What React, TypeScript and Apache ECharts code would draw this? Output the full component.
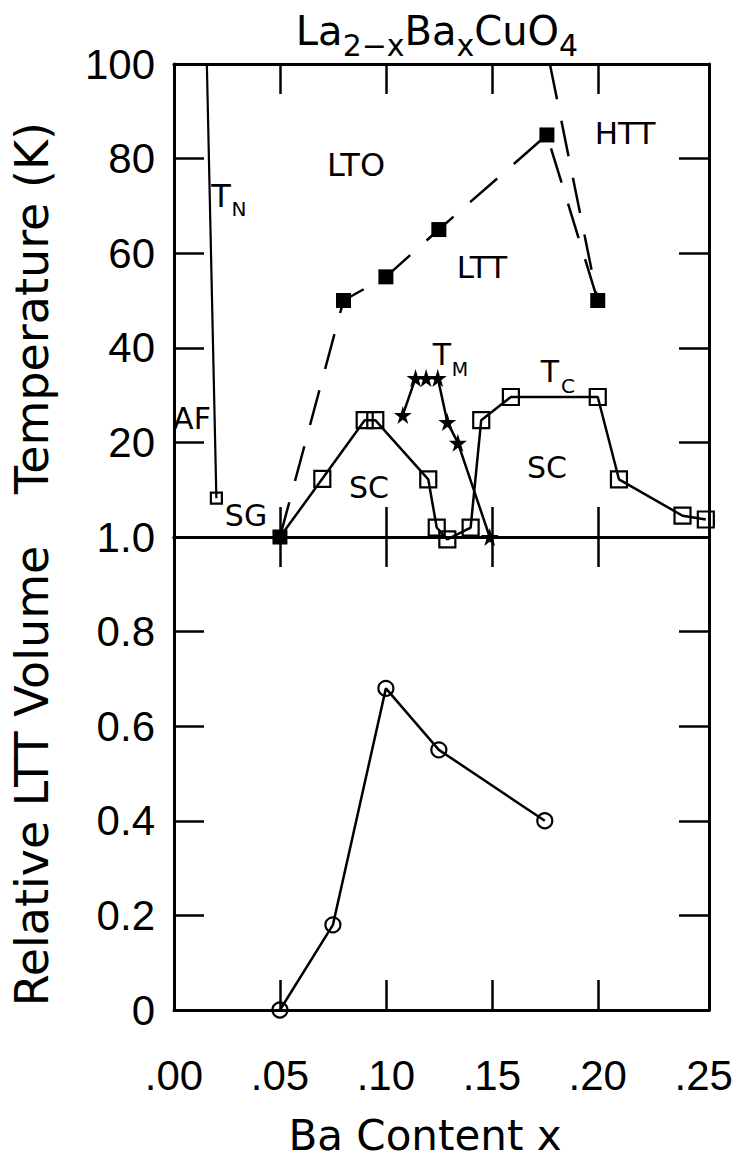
import React, { useEffect, useRef } from "react";
import * as echarts from "echarts";

// ---------------- data ----------------
const xTickValues = [0.05, 0.1, 0.15, 0.2];
const xLabelValues = [0, 0.05, 0.1, 0.15, 0.2, 0.25];
const tempTickValues = [20, 40, 60, 80];
const tempLabelValues = [20, 40, 60, 80, 100];
const volTickValues = [0.2, 0.4, 0.6, 0.8];
const volLabelValues = [0, 0.2, 0.4, 0.6, 0.8, 1.0];

// T_N line (AF boundary) ending in the SG point
const tnX = [0.0155, 0.02];
const tnT = [100, 8.2];

// Tc (open squares)
const tcX = [0.05, 0.07, 0.09, 0.095, 0.12, 0.124, 0.129, 0.14, 0.145, 0.159, 0.2, 0.21, 0.24, 0.251];
const tcT = [0, 12.3, 24.7, 24.7, 12.2, 2.0, -0.5, 2.0, 24.7, 29.6, 29.6, 12.2, 4.5, 3.7];

// T_M (stars)
const tmX = [0.108, 0.114, 0.119, 0.1245, 0.129, 0.134, 0.149];
const tmT = [25.8, 33.6, 33.6, 33.6, 24.3, 19.9, 0];

// LTO-LTT transition (filled squares, dashed)
const lttX = [0.05, 0.08, 0.1, 0.125, 0.176, 0.2];
const lttT = [0, 50, 55, 65, 85, 50];

// LTO-HTT boundary (dashed, no symbols)
const httX = [0.1774, 0.2];
const httT = [100, 50];

// Relative LTT volume (open circles)
const volX = [0.05, 0.075, 0.1, 0.125, 0.175];
const volV = [0, 0.18, 0.68, 0.55, 0.4];

// Title pieces: [text, isSubscript]
const titleParts: [string, boolean][] = [
  ["La", false],
  ["2−x", true],
  ["Ba", false],
  ["x", true],
  ["CuO", false],
  ["4", true],
];

const X_MAX = 0.2525;

// ---------------- styles ----------------
const FONT = "DejaVu Sans";
const NUM_FONT = "Liberation Sans";
const BLACK = "#000";
const frameLine = { color: BLACK, width: 3 };
const tickLine = { color: BLACK, width: 2.5 };
const DASH = [36, 22];
const STAR = "path://M50,0 L61,35 L98,35 L68,57 L79,91 L50,70 L21,91 L32,57 L2,35 L39,35 Z";

function xAxisDef(gridIndex: number, position: string, withLabels: boolean) {
  return {
    type: "value",
    gridIndex,
    position,
    min: 0,
    max: X_MAX,
    interval: 0.05,
    axisLine: { show: true, onZero: false, lineStyle: frameLine },
    axisTick: { show: true, inside: true, length: 30, customValues: xTickValues, lineStyle: tickLine },
    axisLabel: withLabels
      ? {
          show: true,
          customValues: xLabelValues,
          margin: 44,
          fontSize: 42,
          fontFamily: NUM_FONT,
          color: BLACK,
          formatter: (v: number) => v.toFixed(2).replace(/^0/, ""),
        }
      : { show: false },
    splitLine: { show: false },
  };
}

function yAxisDef(
  gridIndex: number,
  position: string,
  min: number,
  max: number,
  interval: number,
  ticks: number[],
  labels: number[] | null,
  fmt?: (v: number) => string
) {
  return {
    type: "value",
    gridIndex,
    position,
    min,
    max,
    interval,
    axisLine: { show: true, onZero: false, lineStyle: frameLine },
    axisTick: { show: true, inside: true, length: 30, customValues: ticks, lineStyle: tickLine },
    axisLabel: labels
      ? {
          show: true,
          customValues: labels,
          margin: 19,
          fontSize: 42,
          fontFamily: NUM_FONT,
          color: BLACK,
          formatter: fmt,
        }
      : { show: false },
    splitLine: { show: false },
  };
}

function pts(xs: number[], ys: number[]) {
  return xs.map((x, i) => [x, ys[i]]);
}

function txt(x: number, y: number, text: string, size: number, rotation = 0, align = "center") {
  return {
    type: "text",
    x,
    y,
    rotation,
    z: 100,
    style: {
      text,
      fontSize: size,
      fontFamily: FONT,
      fill: BLACK,
      align,
      verticalAlign: "middle",
      textAlign: align,
      textVerticalAlign: "middle",
    },
  };
}

function titleElements(centerX: number, mainY: number, subY: number, mainSize: number, subSize: number) {
  const canvas = document.createElement("canvas");
  const ctx = canvas.getContext("2d") as CanvasRenderingContext2D;
  const widths = titleParts.map(([t, sub]) => {
    ctx.font = `${sub ? subSize : mainSize}px "${FONT}"`;
    return ctx.measureText(t).width;
  });
  const total = widths.reduce((a, b) => a + b, 0);
  let x = centerX - total / 2;
  return titleParts.map(([t, sub], i) => {
    const el = txt(x, sub ? subY : mainY, t, sub ? subSize : mainSize, 0, "left");
    x += widths[i];
    return el;
  });
}

export default function App() {
  const ref = useRef<HTMLDivElement>(null);

  useEffect(() => {
    if (!ref.current) return;
    const chart = echarts.init(ref.current, undefined, { renderer: "svg" });

    const openSquare = {
      color: "rgba(0,0,0,0)",
      borderColor: BLACK,
      borderWidth: 2.2,
    };

    const option: any = {
      animation: false,
      backgroundColor: "#fff",
      grid: [
        { left: 174, top: 64, width: 535, height: 473 },
        { left: 174, top: 537, width: 535, height: 473 },
      ],
      xAxis: [
        xAxisDef(0, "bottom", false),
        xAxisDef(0, "top", false),
        xAxisDef(1, "top", false),
        xAxisDef(1, "bottom", true),
      ],
      yAxis: [
        yAxisDef(0, "left", 0, 100, 20, tempTickValues, tempLabelValues, (v: number) => String(v)),
        yAxisDef(0, "right", 0, 100, 20, tempTickValues, null),
        yAxisDef(1, "left", 0, 1, 0.2, volTickValues, volLabelValues, (v: number) =>
          v === 0 ? "0" : v.toFixed(1)
        ),
        yAxisDef(1, "right", 0, 1, 0.2, volTickValues, null),
      ],
      series: [
        {
          name: "TN",
          type: "line",
          xAxisIndex: 0,
          yAxisIndex: 0,
          clip: false,
          data: pts(tnX, tnT).map((p, i) => ({ value: p, symbol: i === 0 ? "none" : "rect" })),
          symbolSize: 11,
          itemStyle: openSquare,
          lineStyle: { color: BLACK, width: 2.2 },
          z: 3,
        },
        {
          name: "Tc",
          type: "line",
          xAxisIndex: 0,
          yAxisIndex: 0,
          clip: false,
          data: pts(tcX, tcT).map((p, i) => ({ value: p, symbol: i === 0 ? "none" : "rect" })),
          symbolSize: 16,
          itemStyle: openSquare,
          lineStyle: { color: BLACK, width: 2.5 },
          z: 3,
        },
        {
          name: "TM",
          type: "line",
          xAxisIndex: 0,
          yAxisIndex: 0,
          clip: false,
          data: pts(tmX, tmT),
          symbol: STAR,
          symbolSize: 18,
          itemStyle: { color: BLACK },
          lineStyle: { color: BLACK, width: 2.5 },
          z: 4,
        },
        {
          name: "HTT",
          type: "line",
          xAxisIndex: 0,
          yAxisIndex: 0,
          clip: false,
          data: pts(httX, httT),
          symbol: "none",
          lineStyle: { color: BLACK, width: 2.5, type: DASH },
          z: 3,
        },
        {
          name: "LTT",
          type: "line",
          xAxisIndex: 0,
          yAxisIndex: 0,
          clip: false,
          data: pts(lttX, lttT),
          symbol: "rect",
          symbolSize: 15,
          itemStyle: { color: BLACK },
          lineStyle: { color: BLACK, width: 2.5, type: DASH },
          z: 5,
        },
        {
          name: "Volume",
          type: "line",
          xAxisIndex: 3,
          yAxisIndex: 2,
          clip: false,
          data: pts(volX, volV),
          symbol: "circle",
          symbolSize: 15,
          itemStyle: { color: "rgba(0,0,0,0)", borderColor: BLACK, borderWidth: 2.2 },
          lineStyle: { color: BLACK, width: 2.5 },
          z: 3,
        },
      ],
      graphic: [
        ...titleElements(437, 31, 45, 40, 30),
        txt(32, 308, "Temperature (K)", 46, Math.PI / 2),
        txt(32, 776, "Relative LTT Volume", 46, Math.PI / 2),
        txt(425, 1135, "Ba Content x", 42),
        txt(356, 165, "LTO", 32),
        txt(221, 196, "T", 32),
        txt(239, 209, "N", 20),
        txt(625, 133, "HTT", 31),
        txt(482, 267, "LTT", 31),
        txt(442, 354, "T", 30),
        txt(460, 369, "M", 19),
        txt(550, 371, "T", 30),
        txt(568, 386, "C", 20),
        txt(369, 487, "SC", 30),
        txt(547, 467, "SC", 30),
        txt(246, 515, "SG", 30),
        txt(192, 418, "AF", 30),
      ],
    };

    chart.setOption(option);
    return () => chart.dispose();
  }, []);

  return (
    <div
      ref={ref}
      style={{ position: "fixed", left: 0, top: 0, width: 738, height: 1162, background: "#fff" }}
    />
  );
}
